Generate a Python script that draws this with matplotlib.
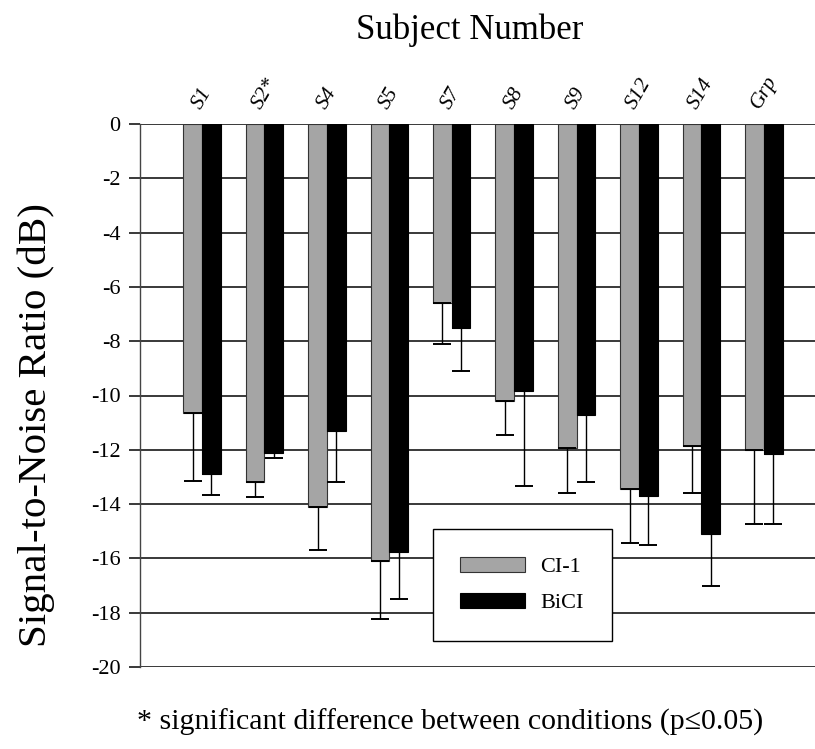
import matplotlib
matplotlib.use("Agg")
import matplotlib.pyplot as plt
import numpy as np

plt.rcParams['font.family'] = ['Liberation Serif', 'DejaVu Serif']
plt.rcParams['axes.unicode_minus'] = False

# data (dB)
subjects = ['S1', 'S2*', 'S4', 'S5', 'S7', 'S8', 'S9', 'S12', 'S14', 'Grp']
ci1 = [-10.65, -13.2, -14.1, -16.1, -6.6, -10.2, -11.95, -13.45, -11.85, -12.0]
ci1_err = [2.5, 0.55, 1.6, 2.15, 1.5, 1.25, 1.65, 2.0, 1.75, 2.75]
bici = [-12.9, -12.1, -11.3, -15.75, -7.5, -9.85, -10.7, -13.7, -15.1, -12.15]
bici_err = [0.75, 0.2, 1.9, 1.75, 1.6, 3.5, 2.5, 1.8, 1.9, 2.6]
yticks = [0, -2, -4, -6, -8, -10, -12, -14, -16, -18, -20]

x = np.arange(len(subjects))
w = 0.3

fig = plt.figure(figsize=(8.15, 7.49), dpi=100)
ax = fig.add_axes([140 / 815, 1 - 667 / 749, 675 / 815, 543 / 749])

ax.bar(x - w / 2, ci1, width=w, color='#a5a5a5', edgecolor='#333333',
       linewidth=0.8, label='CI-1', zorder=3)
ax.bar(x + w / 2, bici, width=w, color='black', edgecolor='black',
       linewidth=0.8, label='BiCI', zorder=3)

zeros = np.zeros(len(x))
ax.errorbar(x - w / 2, ci1, yerr=[ci1_err, zeros], fmt='none', ecolor='black',
            elinewidth=1.0, capsize=6.5, capthick=1.4, zorder=4)
ax.errorbar(x + w / 2, bici, yerr=[bici_err, zeros], fmt='none', ecolor='black',
            elinewidth=1.0, capsize=6.5, capthick=1.4, zorder=4)

ax.set_xlim(-0.994, 9.82)
ax.set_ylim(-20, 0)
ax.set_yticks(yticks)
ax.set_yticklabels([str(t) for t in yticks], fontsize=16)
ax.set_xticks([])
ax.yaxis.grid(True, color='#2a2a2a', linewidth=1.3, zorder=0)
ax.set_axisbelow(True)
ax.tick_params(axis='y', direction='out', length=8, width=1.3,
               color='#2a2a2a', pad=6)
for side in ['top', 'right', 'bottom']:
    ax.spines[side].set_visible(False)
ax.spines['left'].set_color('#444444')
ax.spines['left'].set_linewidth(1.0)

# subject labels above the bars
for xi, name in zip(x, subjects):
    ax.text(xi, 1.022, name, transform=ax.get_xaxis_transform(),
            rotation=60, ha='center', va='bottom', fontsize=15.5,
            style='italic')

ax.set_ylabel('Signal-to-Noise Ratio (dB)', fontsize=29.5)
ax.yaxis.set_label_coords(-0.126, 0.446)

leg = ax.legend(loc='center', bbox_to_anchor=(0.566, 0.151), fontsize=16,
                handlelength=2.9, handleheight=0.68, handletextpad=0.7,
                labelspacing=0.7, borderpad=1.25, fancybox=False,
                framealpha=1, edgecolor='black')
leg.get_frame().set_linewidth(1.0)
leg.set_zorder(5)

fig.text(470 / 815, 1 - 30 / 749, 'Subject Number', ha='center',
         va='center', fontsize=25)
fig.text(450 / 815, 1 - 722 / 749,
         '* significant difference between conditions (p\u22640.05)',
         ha='center', va='center', fontsize=21.5)

fig.savefig('out.png', dpi=100)
